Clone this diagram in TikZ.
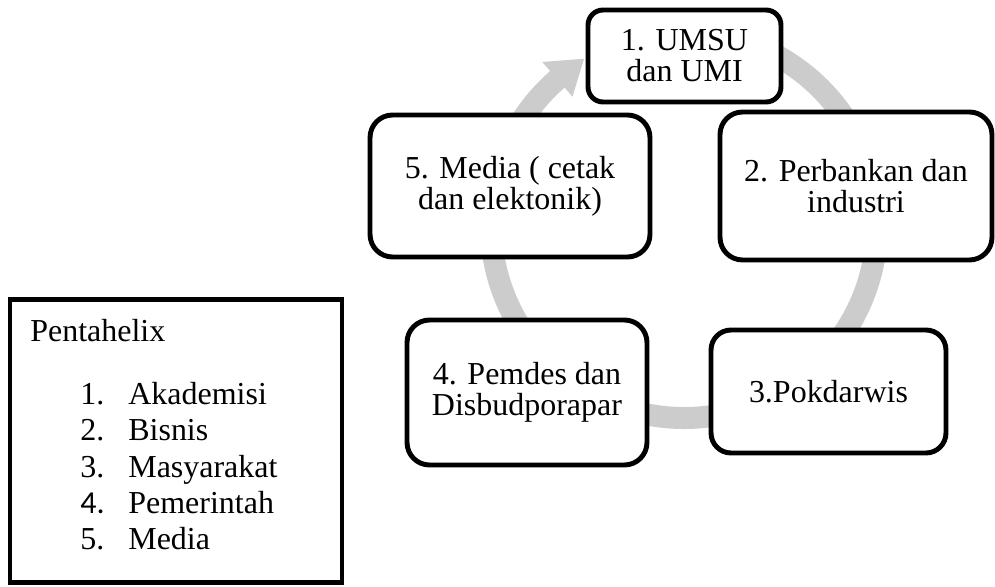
\documentclass[tikz,border=0pt]{standalone}
\usepackage{fontspec}
\setmainfont{Liberation Serif}
\newfontfamily\calfont{Carlito}
\definecolor{ringgray}{RGB}{204,204,204}
\begin{document}
\begin{tikzpicture}[x=0.02cm, y=-0.02cm,
  txt/.style={font=\fontsize{18.2}{17.6}\selectfont},
  box/.style={txt, draw=black, line width=2.8pt, fill=white, align=center, inner sep=0pt},
  ringline/.style={draw=ringgray, line width=0.44cm},
  item/.style={txt, anchor=base west, inner sep=0pt}
]
\useasboundingbox (0,0) rectangle (995,587);
% cycle ring with arrow head
\coordinate (C) at (684,225);
\draw[ringline] ([shift={(-80:193)}]C) arc[start angle=-80, end angle=230, radius=193];
\fill[ringgray] ([shift={(-131:170)}]C) -- ([shift={(-121:194)}]C) -- ([shift={(-131:216)}]C) -- cycle;
% boxes
\node[box, minimum width=3.86cm, minimum height=1.84cm, rounded corners=0.3cm] (n1) at (684.5,56) {1. UMSU\\dan UMI};
\node[box, minimum width=5.44cm, minimum height=2.96cm, rounded corners=0.45cm] (n2) at (856,186) {2. Perbankan dan\\industri};
\node[box, minimum width=5.6cm, minimum height=2.84cm, rounded corners=0.45cm] (n5) at (510,186) {5. Media ( cetak\\dan elektonik)};
\node[box, minimum width=4.8cm, minimum height=2.9cm, rounded corners=0.45cm] (n4) at (527,392.5) {4. Pemdes dan\\Disbudporapar};
\node[box, minimum width=4.7cm, minimum height=2.46cm, rounded corners=0.4cm] (n3) at (828.5,391.5) {3.Pokdarwis};
% legend
\node[draw=black, line width=2.8pt, minimum width=6.64cm, minimum height=5.65cm, inner sep=0pt] (legend) at (176,441) {};
\node[item] (lt) at (30,342) {Pentahelix};
\node[item] (k1) at (80,405) {1.};
\node[item] (l1) at (128,405) {Akademisi};
\node[item] (k2) at (80,441) {2.};
\node[item] (l2) at (128,441) {Bisnis};
\node[item] (k3) at (80,477.5) {3.};
\node[item] (l3) at (128,477.5) {Masyarakat};
\node[item] (k4) at (80,514) {\calfont 4.};
\node[item] (l4) at (128,514) {Pemerintah};
\node[item] (k5) at (80,550) {5.};
\node[item] (l5) at (128,550) {Media};
\end{tikzpicture}
\end{document}
